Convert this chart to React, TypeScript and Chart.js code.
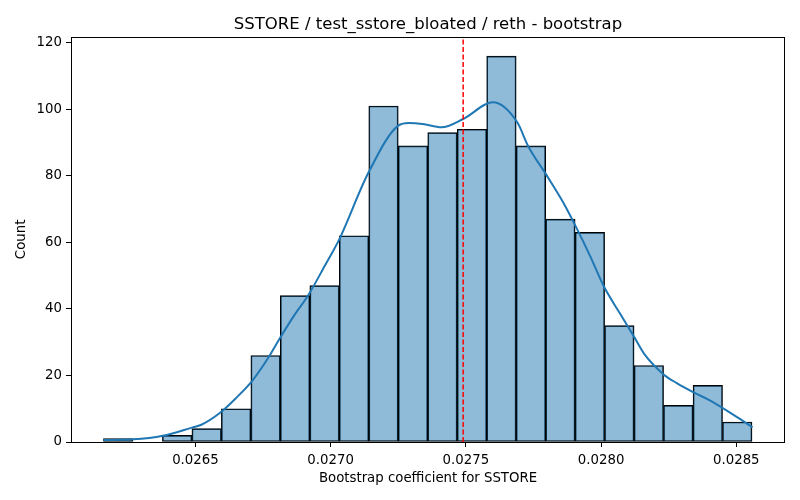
import { useEffect, useRef } from "react"
import { Chart, registerables } from "chart.js"

Chart.register(...registerables)

// histogram bin edges (22 bins) and counts
const binEdges = [
  0.02616, 0.026269, 0.026378, 0.026487, 0.026596, 0.026705, 0.026814, 0.026923,
  0.027032, 0.027141, 0.02725, 0.027359, 0.027468, 0.027577, 0.027686, 0.027795,
  0.027904, 0.028013, 0.028122, 0.028231, 0.02834, 0.028449, 0.028558,
]
const counts = [1, 0, 2, 4, 10, 26, 44, 47, 62, 101, 89, 93, 94, 116, 89, 67, 63, 35, 23, 11, 17, 6]

// KDE curve (scaled to counts)
const kdeX = [
  0.02616, 0.02627, 0.02638, 0.02649, 0.02652, 0.02659, 0.02665, 0.02671, 0.02677,
  0.02681, 0.02686, 0.02692, 0.02698, 0.02703, 0.02714, 0.02725, 0.02729, 0.02734,
  0.02741, 0.02749, 0.0276, 0.02769, 0.02773, 0.0278, 0.02786, 0.02791, 0.02796,
  0.02801, 0.02807, 0.02812, 0.02816, 0.02823, 0.02828, 0.02834, 0.0284, 0.02845,
  0.02851, 0.02856,
]
const kdeY = [
  0.6, 0.8, 1.9, 4.4, 5.1, 8.7, 13.2, 18.4, 25.4,
  30.9, 37.4, 44.5, 53.2, 60.6, 81, 95.1, 95.9, 95.6,
  94.6, 97.1, 102.1, 96.1, 89, 80, 72, 64.2, 55.8,
  46.8, 38.6, 31.9, 26.4, 20.4, 17.7, 15.0, 12.6, 10.2,
  7.1, 4.4,
]

const meanValue = 0.02749
const xTicks = [0.0265, 0.027, 0.0275, 0.028, 0.0285]
const yTicks = [0, 20, 40, 60, 80, 100, 120]
const xMin = 0.02604
const xMax = 0.02868
const yMax = 121.8

const FONT = "'DejaVu Sans', sans-serif"

// matplotlib-style box around the axes
const framePlugin = {
  id: "frame",
  afterDatasetsDraw(chart: any) {
    const { ctx, chartArea: a } = chart
    ctx.save()
    ctx.strokeStyle = "#000"
    ctx.lineWidth = 1
    const l = Math.round(a.left) + 0.5
    const t = Math.round(a.top) + 0.5
    const r = Math.round(a.right) - 0.5
    const b = Math.round(a.bottom) + 0.5
    ctx.strokeRect(l, t, r - l, b - t)
    ctx.restore()
  },
}

export default function App() {
  const canvasRef = useRef<HTMLCanvasElement>(null)

  useEffect(() => {
    if (!canvasRef.current) return
    const ctx = canvasRef.current.getContext("2d")
    if (!ctx) return

    const bars = counts.map((c, i) => ({ x: (binEdges[i] + binEdges[i + 1]) / 2, y: c }))
    const kde = kdeX.map((x, i) => ({ x, y: kdeY[i] }))

    const chart = new Chart(ctx, {
      type: "bar",
      data: {
        datasets: [
          {
            type: "bar",
            data: bars,
            backgroundColor: "rgba(31, 119, 180, 0.5)",
            borderColor: "#000",
            borderWidth: 1,
            borderSkipped: false,
            barPercentage: 1,
            categoryPercentage: 1,
            order: 3,
          },
          {
            type: "line",
            data: kde,
            borderColor: "#1f77b4",
            borderWidth: 2,
            pointRadius: 0,
            cubicInterpolationMode: "monotone",
            order: 2,
          },
          {
            type: "line",
            data: [
              { x: meanValue, y: 0 },
              { x: meanValue, y: yMax },
            ],
            borderColor: "#ff0000",
            borderWidth: 1.5,
            borderDash: [5, 2.5],
            pointRadius: 0,
            order: 1,
          },
        ] as any,
      },
      plugins: [framePlugin],
      options: {
        responsive: false,
        animation: false,
        layout: { padding: { left: 0, right: 15, top: 0, bottom: 0 } },
        plugins: {
          legend: { display: false },
          tooltip: { enabled: false },
          title: {
            display: true,
            text: "SSTORE / test_sstore_bloated / reth - bootstrap",
            color: "#000",
            fullSize: false,
            font: { family: FONT, size: 16.5, weight: "normal", lineHeight: 1.2 },
            padding: { top: 15, bottom: 2 },
          },
        },
        scales: {
          x: {
            type: "linear",
            min: xMin,
            max: xMax,
            offset: false,
            afterBuildTicks: (scale: any) => {
              scale.ticks = xTicks.map((v) => ({ value: v }))
            },
            afterFit: (scale: any) => {
              scale.height = 58
            },
            grid: {
              display: true,
              drawOnChartArea: false,
              drawTicks: true,
              tickLength: 5,
              tickColor: "#000",
              offset: false,
            },
            border: { display: false },
            ticks: {
              color: "#000",
              font: { family: FONT, size: 13.3 },
              padding: 6,
              maxRotation: 0,
              callback: (v: any) => Number(v).toFixed(4),
            },
            title: {
              display: true,
              text: "Bootstrap coefficient for SSTORE",
              color: "#000",
              font: { family: FONT, size: 13.3, lineHeight: 1.2 },
              padding: { top: 0, bottom: 13 },
            },
          },
          y: {
            type: "linear",
            min: 0,
            max: yMax,
            afterBuildTicks: (scale: any) => {
              scale.ticks = yTicks.map((v) => ({ value: v }))
            },
            afterFit: (scale: any) => {
              scale.width = 71
            },
            grid: {
              display: true,
              drawOnChartArea: false,
              drawTicks: true,
              tickLength: 5,
              tickColor: "#000",
            },
            border: { display: false },
            ticks: {
              color: "#000",
              font: { family: FONT, size: 13.3 },
              padding: 4,
              callback: (v: any) => String(v),
            },
            title: {
              display: true,
              text: "Count",
              color: "#000",
              font: { family: FONT, size: 13.3, lineHeight: 1.2 },
              padding: { top: 14, bottom: 0 },
            },
          },
        },
      },
    })

    return () => {
      chart.destroy()
    }
  }, [])

  return (
    <div style={{ position: "absolute", left: 0, top: 0, width: 800, height: 500, background: "#fff" }}>
      <canvas ref={canvasRef} width={800} height={500} style={{ display: "block" }} />
    </div>
  )
}
